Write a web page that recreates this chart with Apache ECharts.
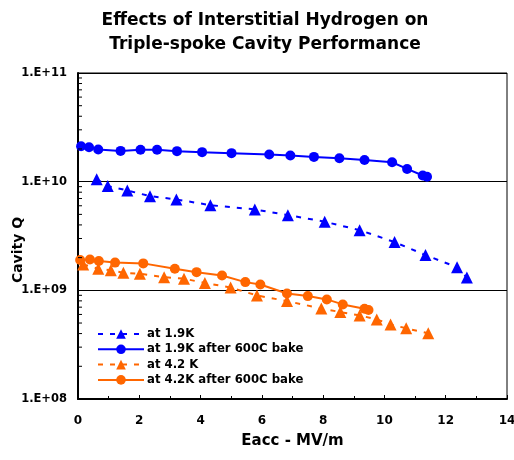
<!DOCTYPE html>
<html>
<head>
<meta charset="utf-8">
<script src="https://cdn.jsdelivr.net/npm/echarts@6/dist/echarts.min.js"></script>
<style>html,body{margin:0;padding:0;background:#fff;}#c{width:514px;height:460px;}</style>
</head>
<body>
<div id="c"></div>
<script>
const titleLines = ['Effects of Interstitial Hydrogen on', 'Triple-spoke Cavity Performance'];
const xAxisName = 'Eacc - MV/m';
const yAxisName = 'Cavity Q';
const seriesNames = ['at 1.9K', 'at 1.9K after 600C bake', 'at 4.2 K', 'at 4.2K after 600C bake'];

const e19 = [0.61,0.97,1.61,2.35,3.21,4.32,5.77,6.85,8.05,9.19,10.33,11.34,12.37,12.69];
const q19 = [1.05e10,9.1e9,8.3e9,7.36e9,6.86e9,6.08e9,5.55e9,4.92e9,4.28e9,3.58e9,2.78e9,2.11e9,1.63e9,1.31e9];

const e19b = [0.10,0.36,0.66,1.39,2.04,2.58,3.23,4.05,5.01,6.24,6.93,7.70,8.53,9.35,10.25,10.74,11.25,11.39];
const q19b = [2.12e10,2.07e10,1.98e10,1.92e10,1.97e10,1.97e10,1.91e10,1.87e10,1.83e10,1.78e10,1.74e10,1.69e10,1.64e10,1.58e10,1.51e10,1.31e10,1.14e10,1.11e10];

const e42 = [0.17,0.66,1.07,1.48,2.02,2.81,3.46,4.14,4.98,5.84,6.82,7.94,8.56,9.19,9.75,10.20,10.71,11.43];
const q42 = [1.73e9,1.58e9,1.53e9,1.45e9,1.42e9,1.32e9,1.28e9,1.17e9,1.06e9,8.98e8,7.96e8,6.81e8,6.31e8,5.88e8,5.40e8,4.86e8,4.47e8,4.02e8];

const e42b = [0.07,0.39,0.68,1.21,2.13,3.16,3.87,4.70,5.46,5.95,6.82,7.50,8.12,8.64,9.35,9.48];
const q42b = [1.90e9,1.92e9,1.86e9,1.80e9,1.77e9,1.58e9,1.47e9,1.37e9,1.19e9,1.13e9,9.36e8,8.85e8,8.25e8,7.42e8,6.77e8,6.58e8];

const xMin = 0, xMax = 14, xStep = 2;
const yMin = 1e8, yMax = 1e11;
const minorMultipliers = [2,3,4,5,6,7,8,9];

const BLUE = '#0000FF', ORANGE = '#FF6600';
const FONT = '"DejaVu Sans", Verdana, sans-serif';

function zip(a, b) { return a.map((v, i) => [v, b[i]]); }
function mk(name, ex, qy, color, dashed, symbol, size) {
  return {
    name: name, type: 'line', data: zip(ex, qy),
    symbol: symbol, symbolSize: size,
    lineStyle: { color: color, width: 2, type: dashed ? [5, 7] : 'solid' },
    itemStyle: { color: color },
    z: 3
  };
}

const chart = echarts.init(document.getElementById('c'), null, { renderer: 'canvas' });
const option = {
  backgroundColor: '#ffffff',
  animation: false,
  title: {
    text: titleLines.join('\n'),
    left: 260, top: 4, textAlign: 'center',
    textStyle: { fontFamily: FONT, fontWeight: 'bold', fontSize: 17, lineHeight: 24, color: '#000' }
  },
  grid: { left: 78, right: 7, top: 73, bottom: 61, outerBoundsMode: 'none', containLabel: false, show: true, borderColor: '#000', borderWidth: 1, backgroundColor: 'transparent' },
  legend: {
    orient: 'vertical', left: 92, top: 323, itemGap: 3.3, itemWidth: 46, itemHeight: 12,
    data: seriesNames,
    textStyle: { fontFamily: FONT, fontWeight: 'bold', fontSize: 11.7, color: '#000', padding: [0,0,0,-2] },
    selectedMode: false
  },
  xAxis: {
    type: 'value', min: xMin, max: xMax, interval: xStep,
    name: xAxisName, nameLocation: 'middle', nameGap: 35, nameMoveOverlap: false,
    nameTextStyle: { fontFamily: FONT, fontWeight: 'bold', fontSize: 15, color: '#000' },
    axisLine: { lineStyle: { color: '#000', width: 2 } },
    axisTick: { inside: true, length: 4, lineStyle: { color: '#000', width: 1 } },
    minorTick: { show: true, splitNumber: 2, length: 3, lineStyle: { color: '#000' } },
    axisLabel: { fontFamily: FONT, fontWeight: 'bold', fontSize: 12, color: '#000', margin: 16 },
    splitLine: { show: false }
  },
  yAxis: {
    type: 'log', logBase: 10, min: yMin, max: yMax,
    name: yAxisName, nameLocation: 'middle', nameGap: 53, nameRotate: 90, nameMoveOverlap: false,
    nameTextStyle: { fontFamily: FONT, fontWeight: 'bold', fontSize: 14, color: '#000', padding: [0, 28, 0, 0] },
    axisLine: { lineStyle: { color: '#000', width: 2 } },
    axisTick: { inside: true, length: 4, lineStyle: { color: '#000' } },
    axisLabel: {
      fontFamily: FONT, fontWeight: 'bold', fontSize: 11.5, color: '#000', margin: 11,
      formatter: function (v) { const e = Math.round(Math.log10(v)); return '1.E+' + (e < 10 ? '0' + e : e); }
    },
    splitLine: { show: true, lineStyle: { color: '#000', width: 1 } }
  },
  series: [
    mk(seriesNames[0], e19, q19, BLUE, true, 'triangle', 12),
    mk(seriesNames[1], e19b, q19b, BLUE, false, 'circle', 10),
    mk(seriesNames[2], e42, q42, ORANGE, true, 'triangle', 12),
    mk(seriesNames[3], e42b, q42b, ORANGE, false, 'circle', 10)
  ]
};
chart.setOption(option);

// minor ticks on the log axis, positioned through the library's own scale
const g = [];
for (let d = 8; d < 11; d++) {
  minorMultipliers.forEach(function (m) {
    const q = m * Math.pow(10, d);
    const p = chart.convertToPixel({ gridIndex: 0 }, [0, q]);
    g.push({ type: 'line', shape: { x1: p[0], y1: p[1], x2: p[0] + 4, y2: p[1] }, style: { stroke: '#000', lineWidth: 1 }, z: 5 });
  });
}
chart.setOption({ graphic: g });
</script>
</body>
</html>
